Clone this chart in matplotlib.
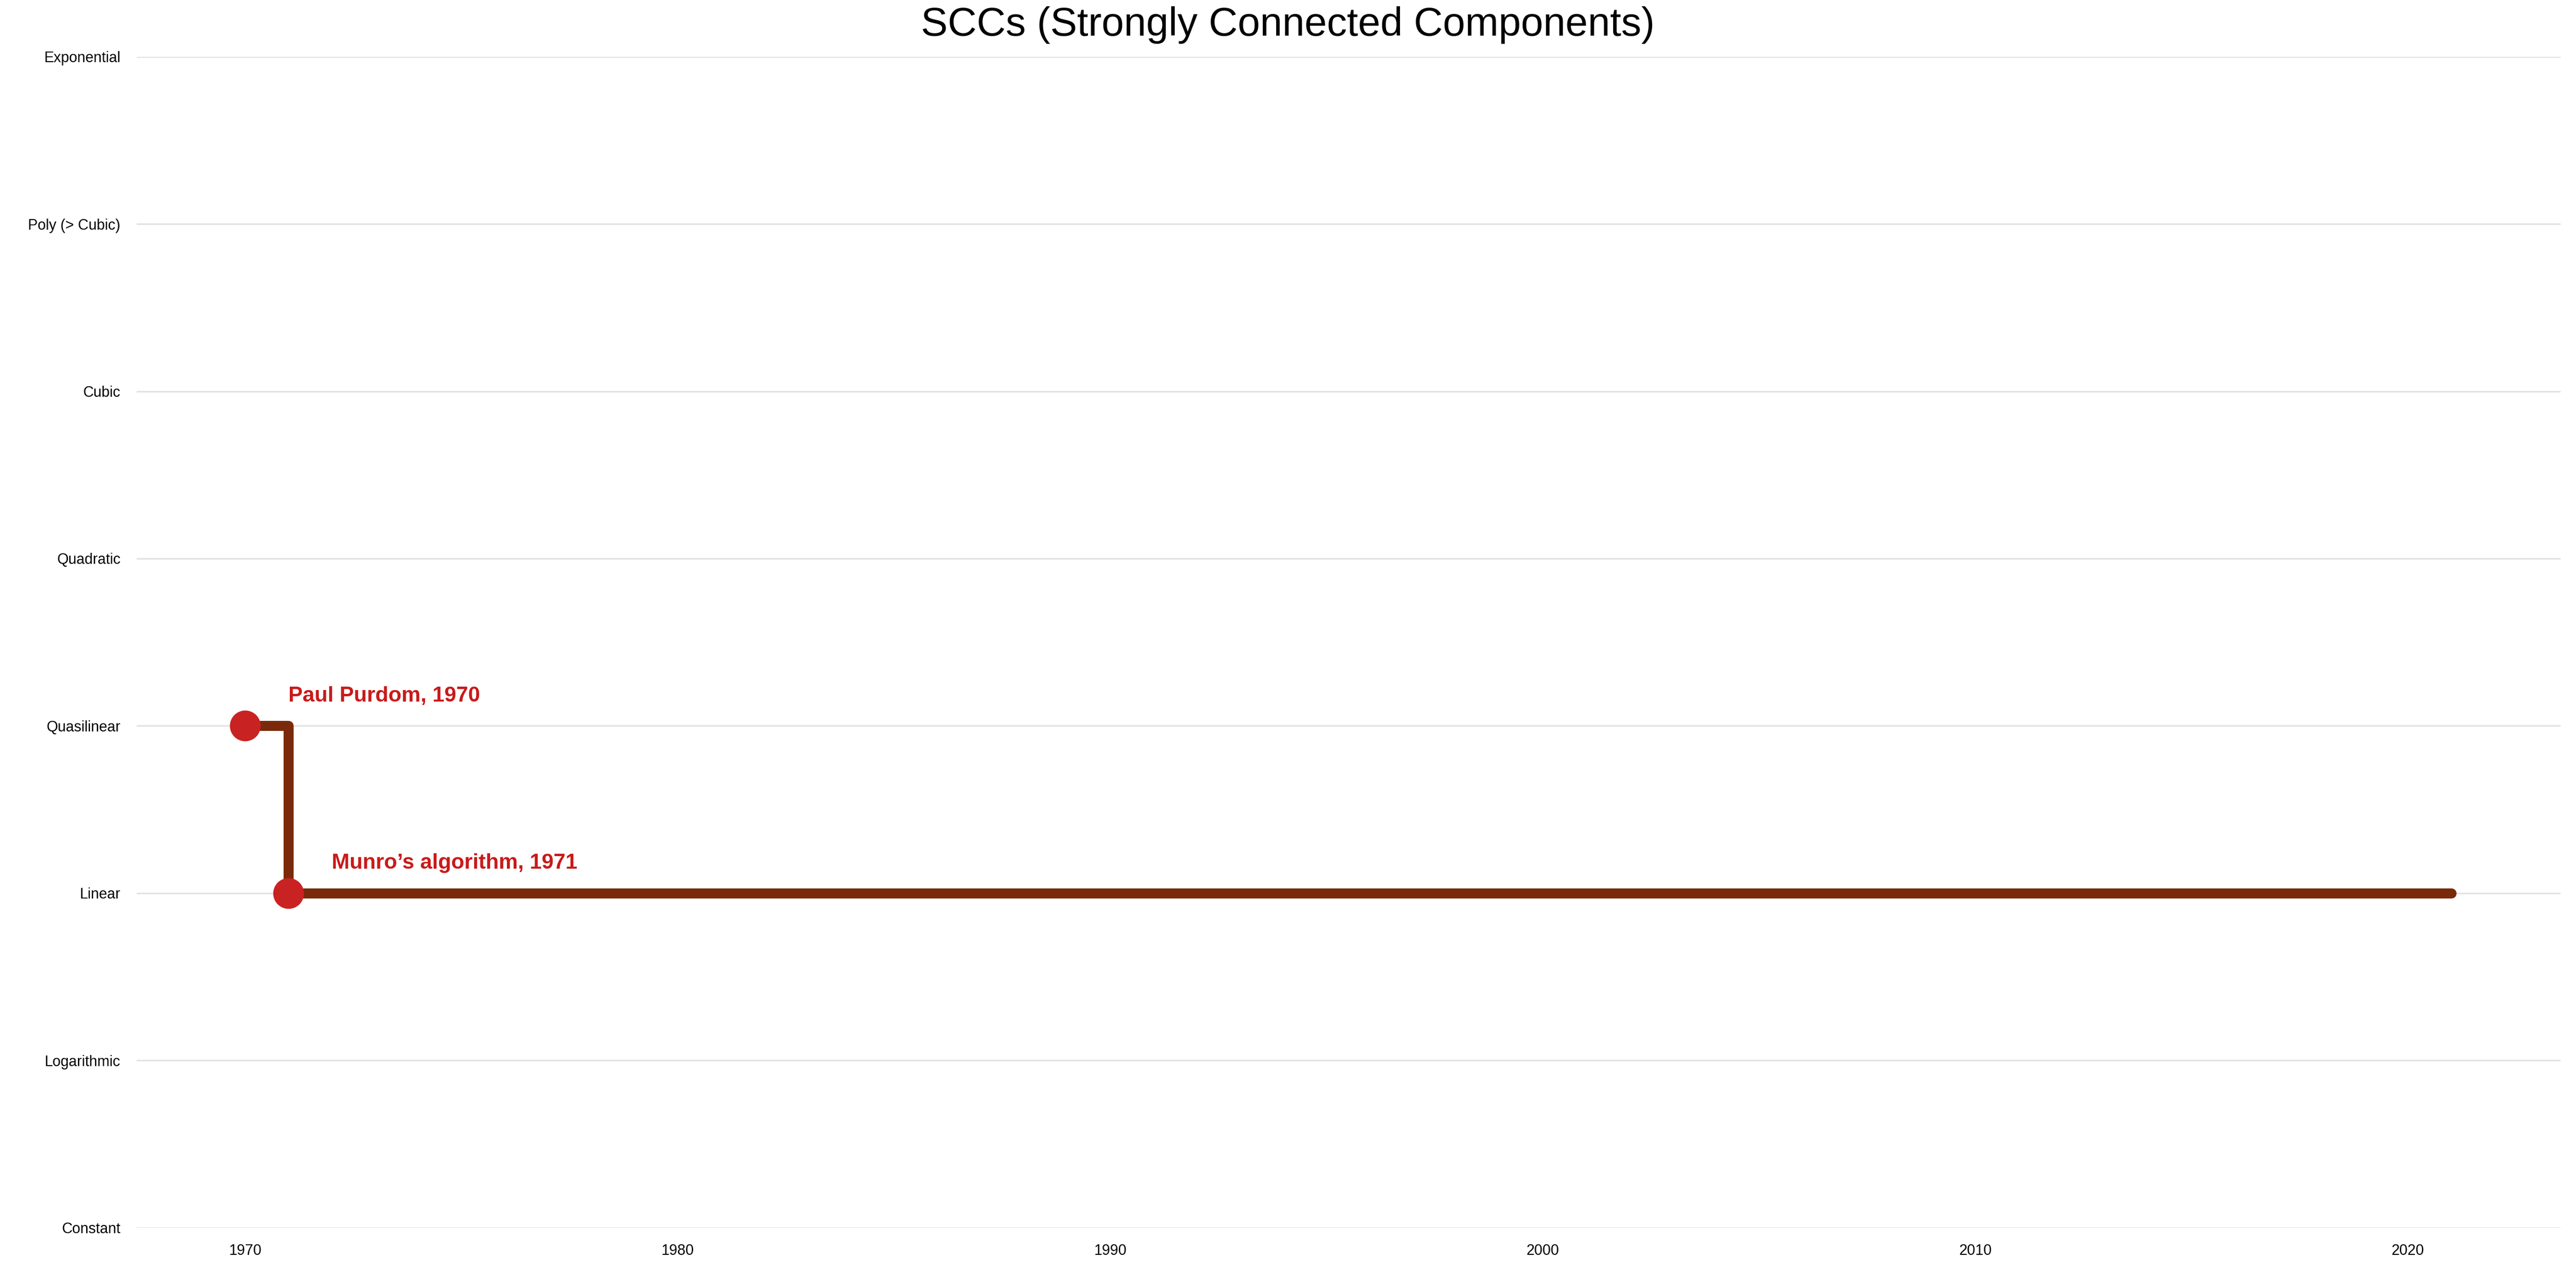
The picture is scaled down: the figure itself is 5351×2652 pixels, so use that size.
import matplotlib.pyplot as plt

plt.rcParams['font.family'] = ['Liberation Sans', 'DejaVu Sans']

# --- DONNEES ---
categories = ["Constant", "Logarithmic", "Linear", "Quasilinear", "Quadratic",
              "Cubic", "Poly (> Cubic)", "Exponential"]
step_years = [1970, 1971, 2021]
step_levels = [3, 2, 2]
point_years = [1970, 1971]
point_levels = [3, 2]
point_labels = ["Paul Purdom, 1970", "Munro\u2019s algorithm, 1971"]
x_ticks = [1970, 1980, 1990, 2000, 2010, 2020]

fig = plt.figure(figsize=(26.755, 13.26), dpi=200)
ax = fig.add_axes([0.053, 0.0386, 0.941, 0.917])

ax.step(step_years, step_levels, where='post', color='#7a2a0a', linewidth=7.5,
        solid_capstyle='round', solid_joinstyle='round', zorder=2)
ax.plot(point_years, point_levels, 'o', color='#c92222', markersize=22, zorder=3)
for x, y, lab in zip(point_years, point_levels, point_labels):
    ax.text(x + 1, y + 0.12, lab, color='#c91a1a', fontsize=16,
            fontweight='bold', va='bottom', ha='left')

ax.set_xlim(1967.49, 2023.53)
ax.set_ylim(0, 7)
ax.set_yticks(range(len(categories)))
ax.set_yticklabels(categories, fontsize=11)
ax.set_xticks(x_ticks)
ax.set_xticklabels([str(t) for t in x_ticks], fontsize=11)
ax.tick_params(length=0, pad=12)
ax.grid(axis='y', color='#e2e2e2', linewidth=1.2)
ax.set_axisbelow(True)
for s in ax.spines.values():
    s.set_visible(False)
fig.suptitle("SCCs (Strongly Connected Components)", fontsize=30, y=0.995)

fig.savefig("out.png", dpi=200)
